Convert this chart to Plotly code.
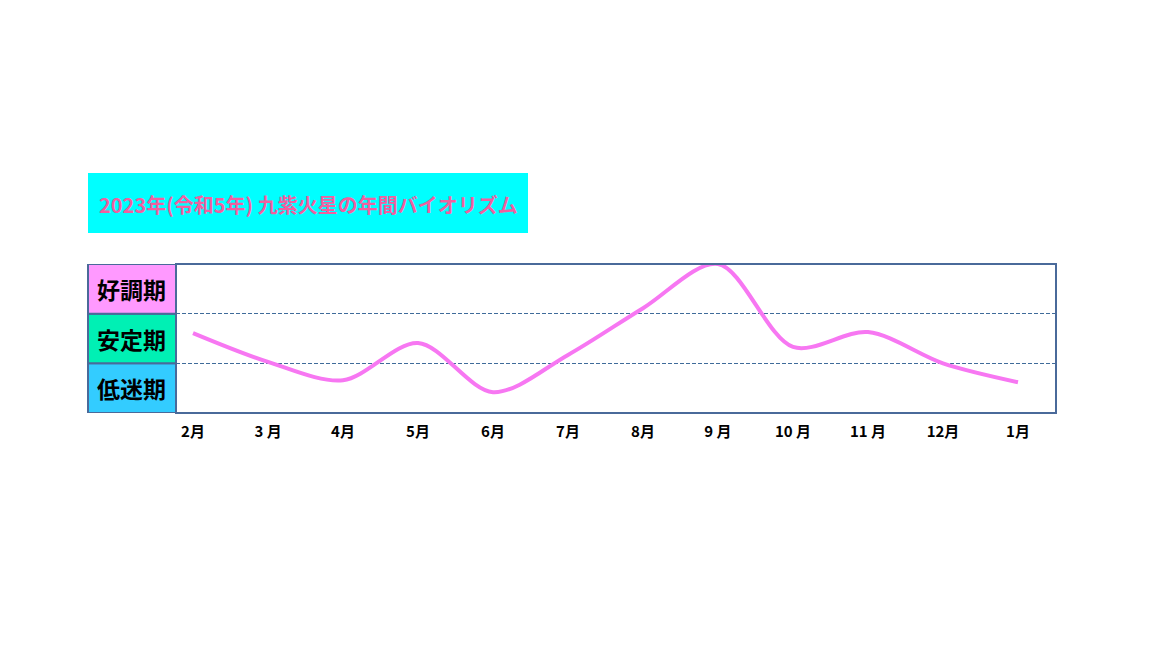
import plotly.graph_objects as go

# データ
months = ["2月", "3 月", "4月", "5月", "6月", "7月", "8月", "9 月", "10 月", "11 月", "12月", "1月"]
level = [1.61, 1.03, 0.66, 1.41, 0.42, 1.17, 2.11, 3.0, 1.33, 1.63, 1.0, 0.62]
phases = ["低迷期", "安定期", "好調期"]
phase_colors = ["#33CCFF", "#00F0B4", "#FF99FF"]
title = "2023年(令和5年) 九紫火星の年間バイオリズム"

# ページ上の位置 (body margin 8px を差し引く)
OFF = 8
W, H = 1152 - 2 * OFF, 648 - 2 * OFF


def px(x):
    return (x - OFF) / W


def py(y):
    return (H - (y - OFF)) / H


x0, x1 = px(176), px(1056)
y0, y1 = py(413), py(264)
lab0 = px(88)
border = "#4A6A9A"
font = "Noto Sans CJK JP"

fig = go.Figure()
fig.add_trace(go.Scatter(
    x=list(range(len(months))), y=level, mode="lines",
    line=dict(color="#F777F2", width=4, shape="spline", smoothing=0.9),
    hoverinfo="skip", cliponaxis=False,
))

# ラベル列
for i, (p, c) in enumerate(zip(phases, phase_colors)):
    fig.add_shape(type="rect", xref="paper", yref="y", x0=lab0, x1=x0, y0=i, y1=i + 1,
                  fillcolor=c, line=dict(color=border, width=2), layer="below")
    fig.add_annotation(xref="paper", yref="y", x=(lab0 + x0) / 2, y=i + 0.5, text="<b>" + p + "</b>",
                       showarrow=False, font=dict(family=font, size=23, color="black"),
                       xanchor="center", yanchor="middle")

# プロット枠
fig.add_shape(type="rect", xref="paper", yref="paper", x0=x0, x1=x1, y0=y0, y1=y1,
              line=dict(color=border, width=2), layer="above")

# タイトル
fig.add_shape(type="rect", xref="paper", yref="paper", x0=px(88), x1=px(528),
              y0=py(233), y1=py(173), fillcolor="#00FFFF", line=dict(width=0))
fig.add_annotation(xref="paper", yref="paper", x=px(308), y=py(204), text="<b>" + title + "</b>",
                   showarrow=False, font=dict(family=font, size=20, color="#F0609F"),
                   xanchor="center", yanchor="middle")

fig.update_layout(
    width=W, height=H, margin=dict(l=0, r=0, t=0, b=0),
    paper_bgcolor="white", plot_bgcolor="white", showlegend=False,
    xaxis=dict(domain=[x0, x1], range=[-0.227, 11.507], tickvals=list(range(len(months))),
               ticktext=["<b>" + m + "</b>" for m in months], showgrid=False, zeroline=False,
               ticks="", ticklen=0, ticklabelstandoff=8,
               tickfont=dict(family=font, size=15, color="black")),
    yaxis=dict(domain=[y0, y1], range=[0, 3], tickvals=[1, 2], showticklabels=False,
               showgrid=True, gridcolor="#3F6B9A", gridwidth=1, griddash="4px,2px", zeroline=False),
)

fig.write_html("out.html")
